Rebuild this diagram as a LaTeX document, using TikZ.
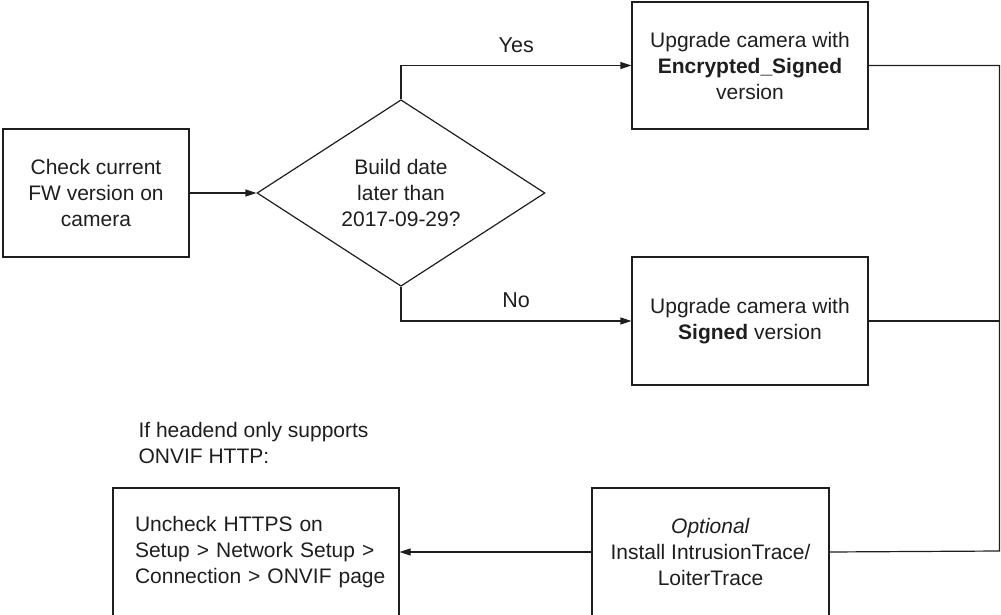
\documentclass[tikz,border=0pt]{standalone}
\usepackage{fontspec}
\setmainfont{Liberation Sans}
\usetikzlibrary{shapes.geometric,arrows.meta}
\definecolor{ink}{HTML}{1E1E1E}
\begin{document}
\begin{tikzpicture}[x=1pt,y=-1pt,
  every node/.style={text=ink},
  txt/.style={font=\fontsize{21}{26}\selectfont},
  box/.style={draw=ink,line width=1.2pt,rectangle,inner sep=0pt,align=center,txt},
  decision/.style={draw=ink,line width=1.2pt,diamond,inner sep=0pt,align=center,txt,minimum width=288pt,minimum height=138pt},
  conn/.style={draw=ink,line width=1.2pt},
  arr/.style={conn,-{Triangle[length=11pt,width=7pt]}},
  lbl/.style={font=\fontsize{21.5}{24}\selectfont}]
\useasboundingbox (0,0) rectangle (1001,615);
\clip (0,0) rectangle (1001,615);
\node[box,minimum width=186pt,minimum height=128pt] (check) at (96,193) {Check current\\FW version on\\camera};
\node[decision] (dec) at (401,193) {Build date\\later than\\2017-09-29?};
\node[box,minimum width=236pt,minimum height=127pt] (enc) at (750,65.5) {Upgrade camera with\\\textbf{Encrypted\_Signed}\\version};
\node[box,minimum width=236pt,minimum height=128pt] (sig) at (750,321) {Upgrade camera with\\\textbf{Signed} version};
\node[box,minimum width=237pt,minimum height=128pt] (opt) at (710.5,552) {\textit{Optional}\\Install IntrusionTrace/\\LoiterTrace};
\node[box,minimum width=286pt,minimum height=128pt,text width=242pt,align=left] (unc) at (256,552) {\mbox{Uncheck HTTPS on}\\\mbox{Setup > Network Setup >}\\\mbox{Connection > ONVIF page}};
\node[txt,anchor=west,align=left] (note) at (135,443) {If headend only supports\\ONVIF HTTP:};
\coordinate (rail) at (999.5,551);
\draw[arr] (check.east) -- (dec.west);
\draw[arr] (dec.north) |- node[pos=0.75,yshift=20pt,lbl] (yes) {Yes} (enc.west);
\draw[arr] (dec.south) |- node[pos=0.75,yshift=21pt,lbl] (no) {No} (sig.west);
\draw[conn] (enc.east) -| (rail) -- (opt.east);
\draw[conn] (sig.east) -- (sig.east -| rail);
\draw[arr] (opt.west) -- (unc.east);
\end{tikzpicture}
\end{document}
